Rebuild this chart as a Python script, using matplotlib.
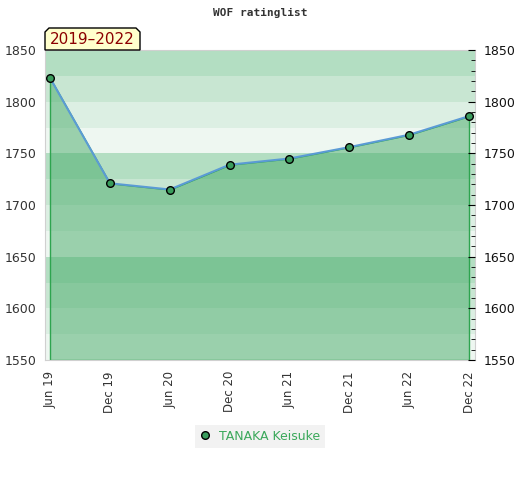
import matplotlib as mpl
mpl.use('Agg')

import matplotlib.pyplot as plt
from matplotlib.patches import Polygon
from matplotlib.ticker import MultipleLocator

# rating per half year
labels = ["Jun 19", "Dec 19", "Jun 20", "Dec 20", "Jun 21", "Dec 21", "Jun 22", "Dec 22"]
ratings = [1823, 1721, 1715, 1739, 1745, 1756, 1768, 1786]
player = "TANAKA Keisuke"
period = "2019\u20132022"

ymin, ymax = 1550, 1850
band_colors = ["#c8e6d2", "#b3dec2", "#eef7f1", "#dcefe3"]  # x00, x25, x50, x75

W, H = 520, 480
fig = plt.figure(figsize=(W / 100, H / 100), dpi=100)
ax = fig.add_axes([45 / W, 1 - 360 / H, 430 / W, 310 / H])

x = list(range(len(ratings)))

# background bands
lo = ymin
while lo < ymax:
    ax.axhspan(lo, lo + 25, color=band_colors[(lo % 100) // 25], lw=0, zorder=0)
    lo += 25

ax.fill_between(x, ratings, ymin, facecolor=(0.28, 0.67, 0.41, 0.5),
                edgecolor="#2ea44f", linewidth=1, zorder=1)
ax.plot(x, ratings, color="#5b9bd5", lw=1.5, zorder=2)
ax.plot(x, ratings, ls="none", marker="o", ms=5.5, mfc="#3a9d5d", mec="black",
        mew=1, zorder=3, label=player)

ax.set_xlim(-5 / 59.86, 7 + 6 / 59.86)
ax.set_ylim(ymin, ymax)
ax.set_xticks(x)
ax.set_xticklabels(labels, rotation=90, fontsize=8.5, color="#333333")
ax.yaxis.set_major_locator(MultipleLocator(50))
ax.tick_params(axis="y", length=0, pad=6, labelsize=9, labelcolor="#333333")
ax.tick_params(axis="x", length=0, pad=8)
for s in ax.spines.values():
    s.set_color("#d0d0d0")

ax2 = ax.twinx()
ax2.set_ylim(ymin, ymax)
ax2.yaxis.set_major_locator(MultipleLocator(50))
ax2.yaxis.set_minor_locator(MultipleLocator(10))
ax2.tick_params(axis="y", which="major", direction="in", length=5, pad=6,
                labelsize=9, labelcolor="#111111")
ax2.tick_params(axis="y", which="minor", direction="in", length=3)
for s in ax2.spines.values():
    s.set_visible(False)

fig.text(260 / W, 1 - 13 / H, "WOF ratinglist", ha="center", va="center",
         fontsize=8, fontweight="bold", family="DejaVu Sans Mono", color="#333333")

# period label box with cut top corners
pts = [(45, 50), (45, 32), (49, 28), (136, 28), (140, 32), (140, 50)]
fig.patches.append(Polygon([(px / W, 1 - py / H) for px, py in pts], closed=True,
                           transform=fig.transFigure, facecolor="#ffffcc",
                           edgecolor="black", lw=1, zorder=5))
fig.text(92.5 / W, 1 - 40 / H, period, ha="center", va="center", fontsize=11,
         color="#8b0000", zorder=6)

leg = fig.legend(loc="center", bbox_to_anchor=(260 / W, 1 - 436 / H), frameon=True,
                 fontsize=9, handlelength=0.8, handletextpad=0.7, borderpad=0.4,
                 fancybox=False)
leg.get_frame().set_facecolor("#efefef")
leg.get_frame().set_edgecolor("none")
for t in leg.get_texts():
    t.set_color("#3aa85a")

fig.savefig("out.png", dpi=100)
